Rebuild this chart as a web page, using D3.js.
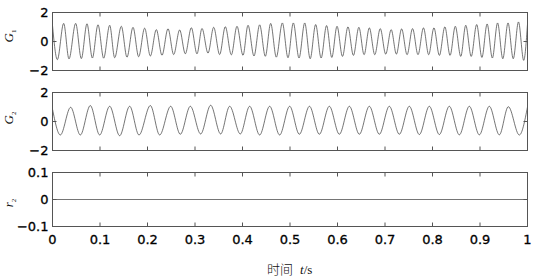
<!DOCTYPE html>
<html>
<head>
<meta charset="utf-8">
<script src="https://cdn.jsdelivr.net/npm/d3@7"></script>
<style>
  body { margin: 0; background: #fff; }
  svg { display: block; }
  .tick text { font-family: "DejaVu Sans", Arial, sans-serif; font-size: 13px; fill: #000; stroke: #000; stroke-width: 0.3px; }
  .tick line { stroke: #555; }
</style>
</head>
<body>
<svg id="chart" width="537" height="279"></svg>
<script>
// tick values
var xTicks = [0, 0.1, 0.2, 0.3, 0.4, 0.5, 0.6, 0.7, 0.8, 0.9, 1];
var gTicks = [-2, 0, 2];
var rTicks = [-0.1, 0, 0.1];

// G1: peaks and troughs (time in s, value)
var g1T = [0, 0.0102, 0.0235, 0.0347, 0.0488, 0.0607, 0.0726, 0.0839, 0.0958, 0.1077,
  0.1204, 0.1309, 0.1449, 0.1568, 0.1695, 0.1814, 0.1940, 0.2060, 0.2186, 0.2305,
  0.2432, 0.2551, 0.2677, 0.2796, 0.2923, 0.3042, 0.3147, 0.3274, 0.3393, 0.3519,
  0.3638, 0.3765, 0.3884, 0.4011, 0.4116, 0.4242, 0.4361, 0.4481, 0.4593, 0.4712,
  0.4839, 0.4958, 0.507, 0.519, 0.531, 0.5425, 0.554, 0.5655, 0.577, 0.588,
  0.599, 0.6105, 0.622, 0.6335, 0.645, 0.656, 0.667, 0.6785, 0.690, 0.7015,
  0.713, 0.724, 0.735, 0.7465, 0.758, 0.7695, 0.781, 0.792, 0.803, 0.8145,
  0.826, 0.837, 0.848, 0.8595, 0.870, 0.8815, 0.893, 0.904, 0.915, 0.926,
  0.937, 0.948, 0.959, 0.970, 0.981, 0.992, 1.0];
var g1V = [1.10, -1.25, 1.25, -1.20, 1.25, -1.18, 1.22, -1.14, 1.15, -1.15,
  1.12, -1.12, 1.05, -1.08, 0.98, -1.05, 0.92, -1.00, 0.82, -0.95,
  0.88, -0.90, 0.80, -0.85, 0.95, -0.85, 0.90, -0.80, 0.98, -0.90,
  1.02, -0.92, 1.05, -0.95, 1.12, -1.00, 1.15, -1.02, 1.25, -1.08,
  1.28, -1.12, 1.28, -1.14, 1.28, -1.19, 1.17, -1.14, 1.10, -1.10,
  1.05, -1.03, 1.01, -0.96, 0.98, -0.91, 0.94, -0.91, 0.89, -0.87,
  0.82, -0.87, 0.87, -0.91, 0.89, -0.91, 0.94, -0.91, 0.94, -0.96,
  1.01, -0.96, 1.05, -1.03, 1.12, -1.03, 1.17, -1.10, 1.21, -1.14,
  1.28, -1.19, 1.28, -1.19, 1.35, -1.30, 1.20];

// G2: peaks and troughs
var g2T = [0, 0.0165, 0.0382, 0.0586, 0.0796, 0.0993, 0.1204, 0.1414, 0.1625, 0.1821,
  0.2060, 0.2256, 0.2488, 0.2691, 0.2902, 0.3119, 0.3330, 0.3540, 0.3730, 0.3954,
  0.4151, 0.4361, 0.4572, 0.4782, 0.4993, 0.5197, 0.541, 0.5618, 0.5828, 0.6039,
  0.6250, 0.6460, 0.6670, 0.6881, 0.7091, 0.7302, 0.7512, 0.7723, 0.7933, 0.8144,
  0.8354, 0.8565, 0.8775, 0.8986, 0.9196, 0.9407, 0.9596, 0.9828, 1.0];
var g2V = [0.85, -0.93, 0.98, -0.93, 1.10, -0.93, 1.05, -0.98, 1.05, -0.93,
  1.10, -0.93, 1.05, -0.88, 1.05, -0.86, 1.12, -0.86, 1.05, -0.86,
  1.05, -0.93, 1.05, -0.93, 1.05, -0.88, 1.05, -0.88, 1.05, -0.88,
  1.05, -0.88, 1.05, -0.88, 1.05, -0.88, 1.05, -0.90, 1.05, -0.90,
  1.05, -0.92, 1.05, -0.92, 1.05, -0.92, 1.02, -0.93, 1.0];

// r2: flat zero
var r2T = [0, 1];
var r2V = [0, 0];

var svg = d3.select("#chart");

var x = d3.scaleLinear().domain([0, 1]).range([52.5, 527.5]);
var fmt = d3.format("~g");

var panels = [
  { t: g1T, v: g1V, domain: [-2, 2], ticks: gTicks, top: 12.5, bottom: 70.5, name: "G", sub: "1", labelY: 36, showX: false },
  { t: g2T, v: g2V, domain: [-2, 2], ticks: gTicks, top: 92.5, bottom: 150.5, name: "G", sub: "2", labelY: 118, showX: false },
  { t: r2T, v: r2V, domain: [-0.1, 0.1], ticks: rTicks, top: 172.5, bottom: 226.5, name: "r", sub: "2", labelY: 203, showX: true }
];

panels.forEach(function(p) {
  var y = d3.scaleLinear().domain(p.domain).range([p.bottom, p.top]);
  var g = svg.append("g");

  var pts = p.t.map(function(t, i) { return [t, p.v[i]]; });
  var line = d3.line()
    .x(function(d) { return x(d[0]); })
    .y(function(d) { return y(d[1]); })
    .curve(d3.curveMonotoneX);

  g.append("path")
    .datum(pts)
    .attr("d", line)
    .attr("fill", "none")
    .attr("stroke", "#3a3a3a")
    .attr("stroke-width", 0.7);

  // axes, ticks pointing inward on all four sides
  g.append("g")
    .attr("transform", "translate(0," + p.bottom + ")")
    .call(d3.axisBottom(x).offset(0).tickValues(xTicks).tickSize(-4).tickPadding(8)
      .tickFormat(p.showX ? fmt : function() { return ""; }));
  g.append("g")
    .attr("transform", "translate(0," + p.top + ")")
    .call(d3.axisTop(x).offset(0).tickValues(xTicks).tickSize(-4).tickFormat(function() { return ""; }));
  g.append("g")
    .attr("transform", "translate(" + x(0) + ",0)")
    .call(d3.axisLeft(y).offset(0).tickValues(p.ticks).tickSize(-4).tickPadding(4).tickFormat(fmt));
  g.append("g")
    .attr("transform", "translate(" + x(1) + ",0)")
    .call(d3.axisRight(y).offset(0).tickValues(p.ticks).tickSize(-4).tickFormat(function() { return ""; }));
  g.selectAll(".domain").remove();

  g.append("rect")
    .attr("x", x(0))
    .attr("y", p.top)
    .attr("width", x(1) - x(0))
    .attr("height", p.bottom - p.top)
    .attr("fill", "none")
    .attr("stroke", "#555")
    .attr("stroke-width", 1);

  // y label, rotated, italic with subscript
  var lab = g.append("text")
    .attr("transform", "translate(13," + p.labelY + ") rotate(-90)")
    .attr("text-anchor", "middle")
    .style("font-family", "'Liberation Serif', 'Times New Roman', serif")
    .style("font-size", "13px")
    .attr("fill", "#111");
  lab.append("tspan").style("font-style", "italic").text(p.name);
  lab.append("tspan").attr("dy", 3).style("font-size", "7px").text(p.sub);
});

// x axis title
var title = svg.append("text")
  .attr("x", 267)
  .attr("y", 274)
  .attr("fill", "#111")
  .style("font-size", "13px");
title.append("tspan").style("font-family", "'Noto Sans CJK SC', sans-serif").style("font-weight", "300").text("时间");
title.append("tspan").attr("dx", 7).style("font-family", "'Liberation Serif', serif").style("font-style", "italic").text("t");
title.append("tspan").style("font-family", "'Liberation Serif', serif").text("/s");
</script>
</body>
</html>
